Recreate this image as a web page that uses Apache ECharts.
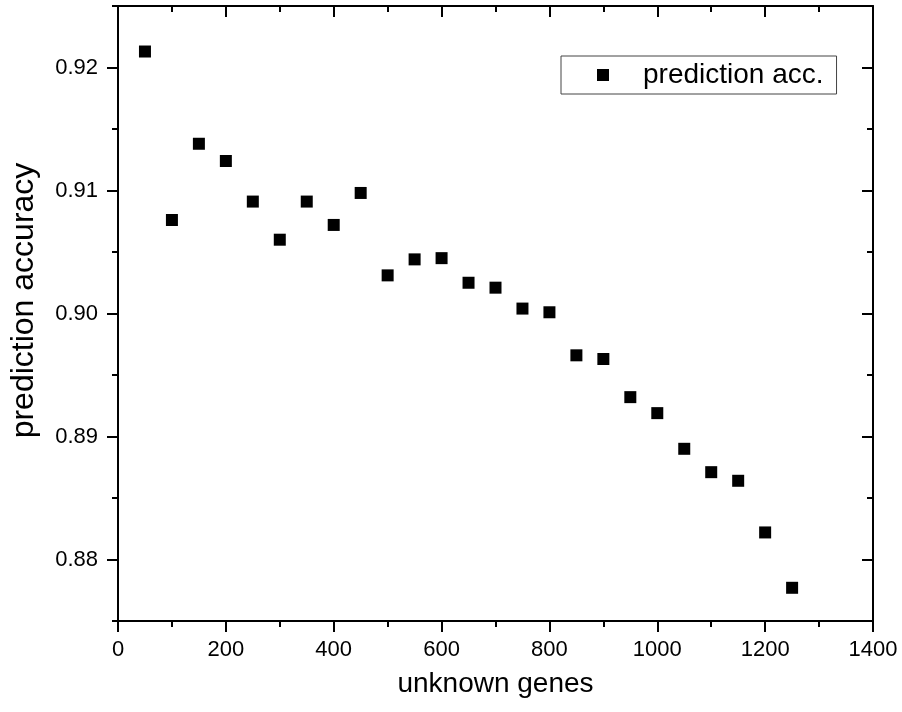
<!DOCTYPE html>
<html>
<head>
<meta charset="utf-8">
<script src="https://cdn.jsdelivr.net/npm/echarts@6/dist/echarts.min.js"></script>
<style>html,body{margin:0;padding:0;background:#fff}#c{width:902px;height:712px}</style>
</head>
<body>
<div id="c"></div>
<script>
const unknownGenes = [50,100,150,200,250,300,350,400,450,500,550,600,650,700,750,800,850,900,950,1000,1050,1100,1150,1200,1250];
const accuracy = [0.9213,0.9076,0.9138,0.9124,0.9091,0.9060,0.9091,0.9072,0.9098,0.9031,0.9044,0.9045,0.9025,0.9021,0.9004,0.9001,0.8966,0.8963,0.8932,0.8919,0.8890,0.8871,0.8864,0.8822,0.8777];
const yMajorTicks = [0.88,0.89,0.90,0.91,0.92];
const seriesName = 'prediction acc.';

const FONT = 'Liberation Sans, Arial, sans-serif';
const black = '#000';
const chart = echarts.init(document.getElementById('c'), null, {renderer:'canvas'});

const xBase = {type:'value', min:0, max:1400, interval:200, splitLine:{show:false},
  axisLine:{show:true, lineStyle:{color:black, width:2}}};
const yBase = {type:'value', min:0.875, max:0.925, splitLine:{show:false},
  axisLine:{show:true, lineStyle:{color:black, width:2}}};

chart.setOption({
  animation:false,
  backgroundColor:'#fff',
  grid:{left:117, right:29, top:6, bottom:91, containLabel:false},
  legend:{
    data:[{name:seriesName, icon:'rect', itemStyle:{color:black, opacity:1}}],
    left:561, top:56, orient:'vertical',
    itemWidth:12, itemHeight:12,
    borderColor:'#444', borderWidth:1, borderRadius:0,
    padding:[5, 13, 5, 36],
    textStyle:{fontFamily:FONT, fontSize:28, color:black, padding:[0,0,0,29]}
  },
  xAxis:[
    Object.assign({}, xBase, {position:'bottom',
      name:'unknown genes', nameLocation:'middle', nameGap:49,
      nameTextStyle:{fontFamily:FONT, fontSize:28, color:black},
      axisTick:{show:true, inside:false, length:11, lineStyle:{color:black, width:2}},
      minorTick:{show:true, splitNumber:2, length:6, lineStyle:{color:black, width:2}},
      axisLabel:{show:true, margin:18, fontFamily:FONT, fontSize:22, color:black,
        formatter:v=>String(v)}}),
    Object.assign({}, xBase, {position:'top',
      axisTick:{show:true, inside:true, length:11, lineStyle:{color:black, width:2}},
      minorTick:{show:true, splitNumber:2, length:6, lineStyle:{color:black, width:2}},
      axisLabel:{show:false}})
  ],
  yAxis:[
    Object.assign({}, yBase, {position:'left',
      name:'prediction accuracy', nameLocation:'middle', nameGap:78,
      nameTextStyle:{fontFamily:FONT, fontSize:32, color:black, padding:[0,0,0,26]},
      axisTick:{show:true, inside:false, length:11, customValues:yMajorTicks, lineStyle:{color:black, width:2}},
      axisLabel:{show:true, margin:20, customValues:yMajorTicks, fontFamily:FONT, fontSize:22, color:black,
        formatter:v=>v.toFixed(2)}}),
    Object.assign({}, yBase, {position:'left', interval:0.005,
      axisLine:{show:false},
      axisTick:{show:true, inside:false, length:6, lineStyle:{color:black, width:2}},
      axisLabel:{show:false}}),
    Object.assign({}, yBase, {position:'right',
      axisTick:{show:true, inside:true, length:11, customValues:yMajorTicks, lineStyle:{color:black, width:2}},
      axisLabel:{show:false}}),
    Object.assign({}, yBase, {position:'right', interval:0.005,
      axisLine:{show:false},
      axisTick:{show:true, inside:true, length:6, lineStyle:{color:black, width:2}},
      axisLabel:{show:false}})
  ],
  series:[{
    name:seriesName, type:'scatter', xAxisIndex:0, yAxisIndex:0,
    symbol:'rect', symbolSize:12,
    itemStyle:{color:black, opacity:1},
    data:unknownGenes.map((x,i)=>[x, accuracy[i]])
  }]
});
</script>
</body>
</html>
